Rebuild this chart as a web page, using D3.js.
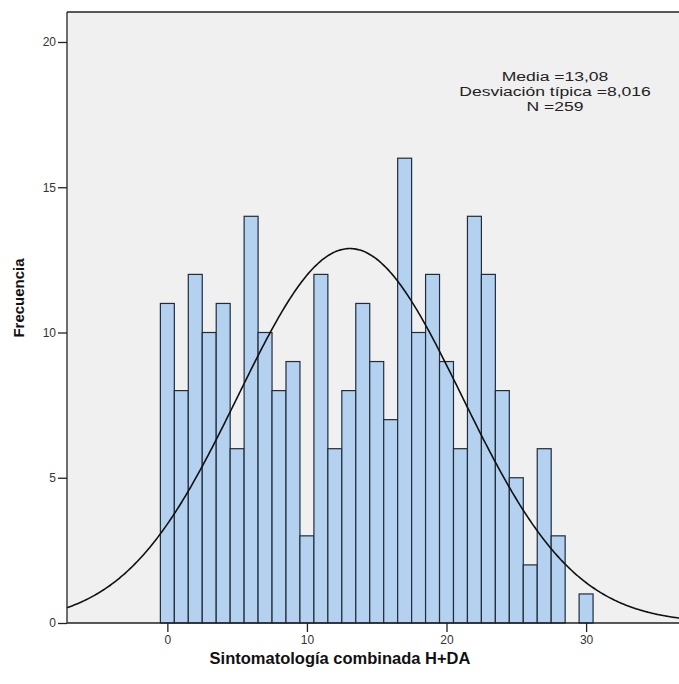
<!DOCTYPE html>
<html><head><meta charset="utf-8">
<script src="https://cdn.jsdelivr.net/npm/d3@7"></script>
<style>body{margin:0;background:#fff}svg{display:block}</style>
</head><body>
<script>
const bins = [0,1,2,3,4,5,6,7,8,9,10,11,12,13,14,15,16,17,18,19,20,21,22,23,24,25,26,27,28,29,30];
const counts = [11,8,12,10,11,6,14,10,8,9,3,12,6,8,11,9,7,16,10,12,9,6,14,12,8,5,2,6,3,0,1];
const yTicks = [0,5,10,15,20];
const xTicks = [0,10,20,30];
const stats = {mean:13.08, sd:8.016, n:259};
const statLines = ["Media =13,08","Desviación típica =8,016","N =259"];

const W=679,H=684;
const svg=d3.select("body").append("svg").attr("width",W).attr("height",H);
const L=67,R=681,T=12,B=623;
const x=d3.scaleLinear().domain([-7.19,36.8]).range([L,R]);
const y=d3.scaleLinear().domain([0,20]).range([B,42]);

svg.append("rect").attr("x",L).attr("y",T).attr("width",R-L).attr("height",B-T).attr("fill","#f0f0f0");

const g=svg.append("g");
g.selectAll("rect.bar").data(bins.map((b,i)=>({b,c:counts[i]})).filter(d=>d.c>0)).enter().append("rect")
 .attr("x",d=>x(d.b-0.5)).attr("width",d=>x(d.b+0.5)-x(d.b-0.5))
 .attr("y",d=>y(d.c)).attr("height",d=>B-y(d.c))
 .attr("fill","#b4d1f0").attr("stroke","#1f2d3d").attr("stroke-width",1.2);

const pdf=v=>stats.n*1/(stats.sd*Math.sqrt(2*Math.PI))*Math.exp(-0.5*((v-stats.mean)/stats.sd)**2);
const xs=d3.range(-7.19,36.81,0.1);
svg.append("path").datum(xs).attr("d",d3.line().x(v=>x(v)).y(v=>y(pdf(v))).curve(d3.curveBasis))
 .attr("fill","none").attr("stroke","#111").attr("stroke-width",1.6);

// frame
svg.append("line").attr("x1",L).attr("x2",R).attr("y1",T).attr("y2",T).attr("stroke","#222").attr("stroke-width",1.3);
svg.append("line").attr("x1",L).attr("x2",L).attr("y1",T).attr("y2",B).attr("stroke","#222").attr("stroke-width",1.3);
svg.append("line").attr("x1",L).attr("x2",R).attr("y1",B).attr("y2",B).attr("stroke","#222").attr("stroke-width",1.3);

// y axis
const ya=svg.append("g").attr("transform",`translate(${L},0)`).call(d3.axisLeft(y).tickValues(yTicks).tickSize(9).tickPadding(2).tickFormat(d3.format("d")));
ya.select(".domain").remove();
ya.selectAll("line").attr("stroke","#222").attr("stroke-width",1.3);
ya.selectAll("text").attr("font-family","Liberation Sans, Arial, sans-serif").attr("font-size",12).attr("fill","#333");

const xa=svg.append("g").attr("transform",`translate(0,${B})`).call(d3.axisBottom(x).tickValues(xTicks).tickSize(9).tickPadding(3).tickFormat(d3.format("d")));
xa.select(".domain").remove();
xa.selectAll("line").attr("stroke","#222").attr("stroke-width",1.3);
xa.selectAll("text").attr("font-family","Liberation Sans, Arial, sans-serif").attr("font-size",12).attr("fill","#333");

svg.append("text").attr("x",340).attr("y",664).attr("text-anchor","middle")
 .attr("font-family","Liberation Sans, Arial, sans-serif").attr("font-weight","bold").attr("font-size",16.5).attr("fill","#111")
 .text("Sintomatología combinada H+DA");
svg.append("text").attr("transform","translate(24,298) rotate(-90)").attr("text-anchor","middle")
 .attr("font-family","Liberation Sans, Arial, sans-serif").attr("font-weight","bold").attr("font-size",15).attr("fill","#111")
 .text("Frecuencia");

svg.append("g").attr("transform","translate(555,0) scale(1.3,1)")
 .selectAll("text").data(statLines).enter().append("text")
 .attr("x",0).attr("y",(d,i)=>81+i*15).attr("text-anchor","middle")
 .attr("font-family","Liberation Sans, Arial, sans-serif").attr("font-size",13.5).attr("fill","#222").text(d=>d);
</script>
</body></html>
